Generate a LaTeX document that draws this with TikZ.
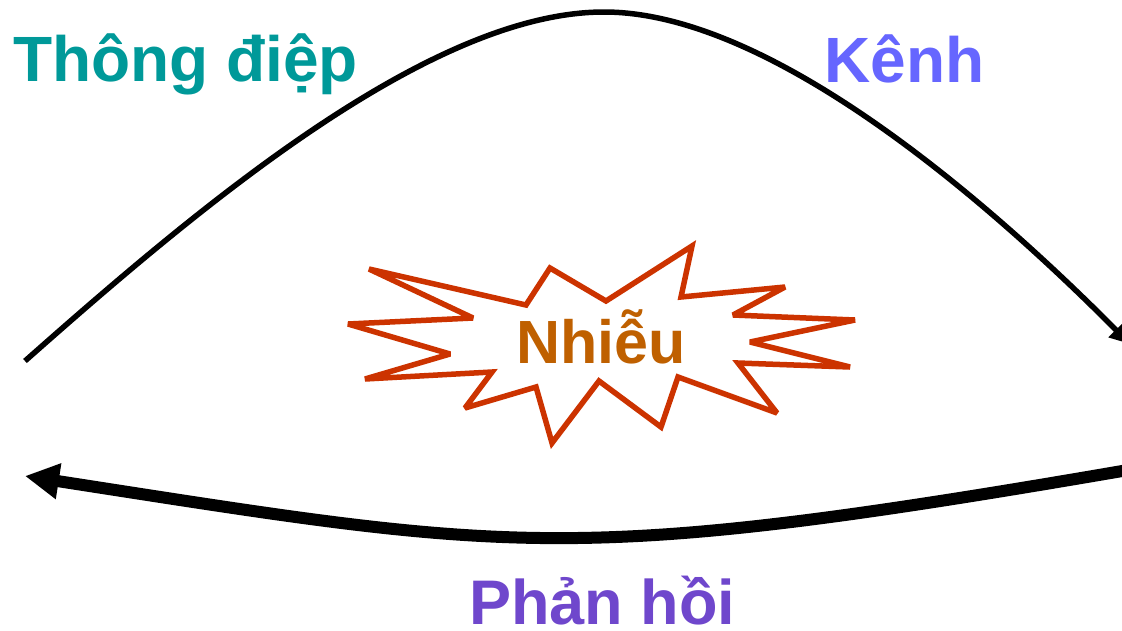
\documentclass[tikz,border=0pt]{standalone}
\usepackage{fontspec}
\setmainfont{Liberation Sans}
\usetikzlibrary{arrows.meta}
\definecolor{msgteal}{HTML}{009999}
\definecolor{chanblue}{HTML}{6666FF}
\definecolor{noisebrown}{HTML}{BF6000}
\definecolor{noisered}{HTML}{CC3300}
\definecolor{fbpurple}{HTML}{6F47CC}
\begin{document}
\begin{tikzpicture}[x=1pt,y=-1pt,
  bigtext/.style={font=\fontsize{64}{76}\selectfont\bfseries, inner sep=0pt},
  channel/.style={line width=5.5pt, -{Triangle[length=20pt,width=20pt]}},
  feedback/.style={line width=12pt, -{Triangle[length=34pt,width=34pt]}},
  burst/.style={draw=noisered, line width=5.5pt, fill=white, miter limit=3}]
\useasboundingbox (0,0) rectangle (1122,630);

% labels
\node[bigtext, text=msgteal, anchor=base west] (msg) at (13,81) {Thông điệp};
\node[bigtext, text=chanblue, anchor=base west] (chan) at (824,82) {Kênh};
\node[bigtext, font=\fontsize{63}{75}\selectfont\bfseries, text=fbpurple, anchor=base west] (fb) at (469,624) {Phản hồi};

% channel curve from sender to receiver
\coordinate (src) at (25,361);
\coordinate (peak) at (604,12);
\coordinate (dst) at (1130,344);
\draw[channel] (src) .. controls (200,206) and (430,12) .. (peak)
  .. controls (760,12) and (965,178) .. (dst);

% feedback curve back to the sender
\coordinate (fbstart) at (1128,470);
\coordinate (fbend) at (25,476);
\draw[feedback] (fbstart) .. controls (570,566) and (515,552) .. (fbend);

% noise burst
\draw[burst] (369,269) -- (526,305) -- (550,268) -- (606,301) -- (692,246)
  -- (681,297) -- (785,287) -- (733,315) -- (855,320) -- (750,342)
  -- (850,367) -- (738,363) -- (777,413) -- (678,377) -- (661,427)
  -- (599,381) -- (552,443) -- (536,387) -- (465,408) -- (492,372)
  -- (365,379) -- (450,354) -- (348,324) -- (473,318) -- cycle;
\node[bigtext, font=\fontsize{61}{73}\selectfont\bfseries, text=noisebrown, anchor=base] (noise) at (601,363) {Nhiễu};
\end{tikzpicture}
\end{document}
